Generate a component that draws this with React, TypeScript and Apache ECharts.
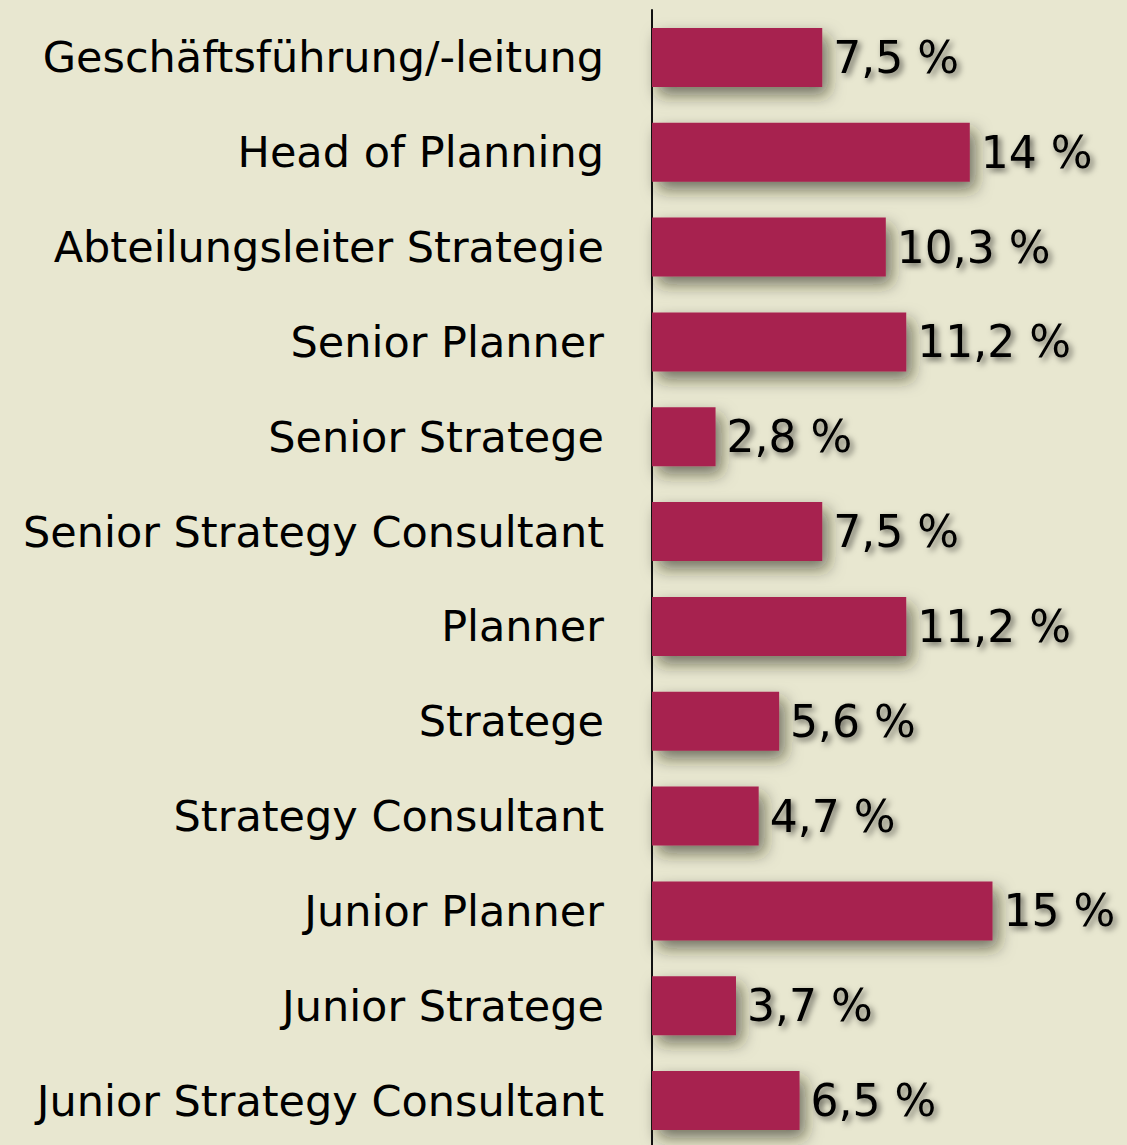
import React, { useEffect, useRef } from "react";
import * as echarts from "echarts";

const categories = [
  "Geschäftsführung/-leitung",
  "Head of Planning",
  "Abteilungsleiter Strategie",
  "Senior Planner",
  "Senior Stratege",
  "Senior Strategy Consultant",
  "Planner",
  "Stratege",
  "Strategy Consultant",
  "Junior Planner",
  "Junior Stratege",
  "Junior Strategy Consultant",
];

const values = [7.5, 14, 10.3, 11.2, 2.8, 7.5, 11.2, 5.6, 4.7, 15, 3.7, 6.5];

const FONT = "'DejaVu Sans', Verdana, sans-serif";

export default function App() {
  const ref = useRef<HTMLDivElement>(null);
  useEffect(() => {
    if (!ref.current) return;
    const chart = echarts.init(ref.current, null, { renderer: "svg" });
    chart.setOption({
      animation: false,
      backgroundColor: "#e8e7d0",
      grid: { left: 652, right: 21, top: 10, height: 1138, containLabel: false },
      xAxis: {
        type: "value",
        min: 0,
        max: 20,
        show: false,
      },
      yAxis: {
        type: "category",
        data: categories,
        inverse: true,
        offset: 2,
        axisLine: { show: true, lineStyle: { color: "#111", width: 2 } },
        axisTick: { show: false },
        axisLabel: {
          margin: 46,
          color: "#000",
          fontFamily: FONT,
          fontSize: 43,
        },
      },
      series: [
        {
          type: "bar",
          data: values,
          barWidth: 59,
          itemStyle: {
            color: "#a72450",
            shadowColor: "rgba(40,40,20,0.6)",
            shadowBlur: 16,
            shadowOffsetX: 6,
            shadowOffsetY: 8,
          },
          label: {
            show: true,
            position: "right",
            distance: 11,
            color: "#000",
            fontFamily: FONT,
            fontSize: 44,
            formatter: (p: any) => String(p.value).replace(".", ",") + " %",
            textShadowColor: "rgba(0,0,0,0.6)",
            textShadowBlur: 6,
            textShadowOffsetX: 3,
            textShadowOffsetY: 3,
          },
        },
      ],
    });
    return () => chart.dispose();
  }, []);
  return (
    <div style={{ position: "fixed", left: 0, top: 0, width: 1127, height: 1145, overflow: "hidden" }}>
      <div ref={ref} style={{ width: 1127, height: 1152 }} />
    </div>
  );
}
